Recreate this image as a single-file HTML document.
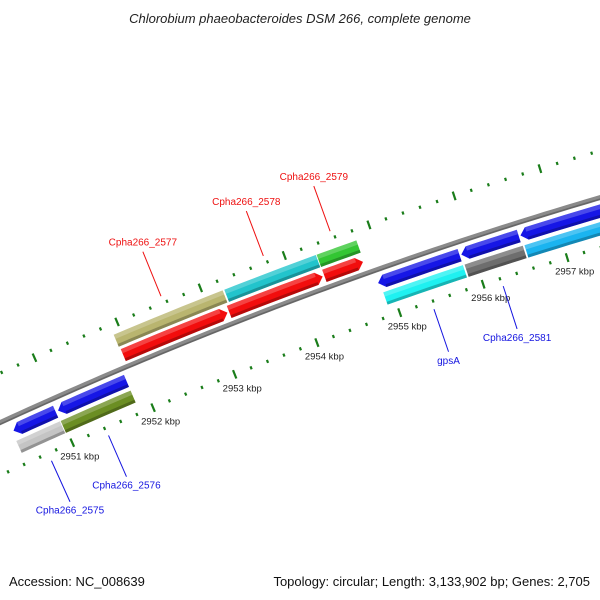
<!DOCTYPE html>
<html><head><meta charset="utf-8"><style>
html,body{margin:0;padding:0;background:#fff;}
svg{display:block;font-family:"Liberation Sans",sans-serif;}
</style></head><body>
<svg id="map" width="600" height="600" viewBox="0 0 600 600" xmlns="http://www.w3.org/2000/svg">
<rect width="600" height="600" fill="#fff"/>
<text x="300" y="23" text-anchor="middle" font-size="13" font-style="italic" fill="#222">Chlorobium phaeobacteroides DSM 266, complete genome</text>
<text x="9" y="586" font-size="13" fill="#111">Accession: NC_008639</text>
<text x="590" y="586" text-anchor="end" font-size="13" fill="#111">Topology: circular; Length: 3,133,902 bp; Genes: 2,705</text>
<g id="plot"></g>
</svg>
<script>
// feature data (kbp positions)
var featNames  = ["Cpha266_2575_rev","Cpha266_2575","Cpha266_2576_rev","Cpha266_2576","Cpha266_2577","Cpha266_2577_fwd","Cpha266_2578","Cpha266_2578_fwd","Cpha266_2579","Cpha266_2579_fwd","gpsA_rev","gpsA","Cpha266_2581_rev","Cpha266_2581","Cpha266_2582_rev","Cpha266_2582"];
var featStart  = [2950.45,2950.43,2951.0,2950.98,2951.91,2951.92,2953.24,2953.2,2954.34,2954.34,2954.88,2954.9,2955.87,2955.87,2956.57,2956.58];
var featEnd    = [2950.97,2950.97,2951.84,2951.84,2953.22,2953.18,2954.33,2954.32,2954.81,2954.8,2955.85,2955.85,2956.55,2956.56,2957.9,2957.9];
var featTrack  = [-13,-30,-13,-30,28,12,28,12,28,12,-13,-30,-13,-30,-13,-30];
var featStrand = [-1,0,-1,0,0,1,0,1,0,1,-1,0,-1,0,-1,0];
var featColor  = ["#1616e6","#c4c4c4","#1616e6","#6b8e23","#b9b56f","#f20d0d","#22c4cc","#f20d0d","#33c633","#f20d0d","#1616e6","#1ff1f1","#1616e6","#6e6e6e","#1616e6","#1ab4f0"];
// labels
var labelText  = ["Cpha266_2575","Cpha266_2576","Cpha266_2577","Cpha266_2578","Cpha266_2579","gpsA","Cpha266_2581"];
var labelPos   = [2950.7,2951.41,2952.56,2953.78,2954.57,2955.38,2956.21];
var labelSide  = [-1,-1,1,1,1,-1,-1];
var labelColor = ["#1515e0","#1515e0","#ee1111","#ee1111","#ee1111","#1515e0","#1515e0"];
// axis ticks
var tickMajor  = [2950,2951,2952,2953,2954,2955,2956,2957,2958];
var tickLabels = ["2950 kbp","2951 kbp","2952 kbp","2953 kbp","2954 kbp","2955 kbp","2956 kbp","2957 kbp","2958 kbp"];
var tickMin = 2950.0, tickMax = 2958.0, tickStep = 0.2;

var CX=1841, CY=4419, R0=4400;
function ang(k){return (-111.66+1.16*(k-2953))*Math.PI/180;}
function P(k,r){var a=ang(k);return [CX+r*Math.cos(a), CY+r*Math.sin(a)];}
function ps(pts){return pts.map(function(p){return p[0].toFixed(2)+","+p[1].toFixed(2);}).join(" ");}
var NS="http://www.w3.org/2000/svg";
var g=document.getElementById("plot");
function mk(tag,attrs){var e=document.createElementNS(NS,tag);for(var k in attrs)e.setAttribute(k,attrs[k]);g.appendChild(e);return e;}
function inView(p){return p[0]>-20&&p[0]<620&&p[1]>-20&&p[1]<620;}

// backbone
var bb=[];for(var k=2949.5;k<=2958.5;k+=0.1)bb.push(P(k,R0));
var bl=mk("polyline",{points:ps(bb),fill:"none",stroke:"#8a8a8a","stroke-width":5});


var bl2=mk("polyline",{points:ps(bb.map(function(p,i){return P(2949.5+i*0.1,R0-1.5);})),fill:"none",stroke:"#666","stroke-width":1.5});



// ticks
var nT=Math.round((tickMax-tickMin)/tickStep);
[4445,4352].forEach(function(rr,ri){
  for(var i=0;i<=nT;i++){
    var k=tickMin+i*tickStep;
    var major=Math.abs(k-Math.round(k))<1e-6;
    var len=major?4.5:1.6;
    var a=P(k,rr-len),b=P(k,rr+len);
    if(!inView(a))continue;
    var t=mk("line",{x1:a[0],y1:a[1],x2:b[0],y2:b[1],stroke:"#1a7d1a","stroke-width":major?2.2:2.2});
    
    
  }
});
tickMajor.forEach(function(k,i){
  var p=P(k,4352);
  if(p[0]<30||p[0]>600)return;
  var t=mk("text",{x:p[0]-12,y:p[1]+17,"font-size":"9.5",fill:"#222"});
  t.textContent=tickLabels[i];
  
  
});

// features
function arcPts(s,e,r){var out=[],n=8;for(var i=0;i<=n;i++)out.push(P(s+(e-s)*i/n,r));return out;}
featStart.forEach(function(s,i){
  var e=featEnd[i], rc=R0+featTrack[i], h=6.5, ah=0.075, st=featStrand[i];
  var pts;
  if(st===-1){
    pts=arcPts(s+ah,e,rc+h).concat(arcPts(e,s+ah,rc-h)).concat([P(s,rc)]);
  }else if(st===1){
    pts=arcPts(s,e-ah,rc+h).concat([P(e,rc)]).concat(arcPts(e-ah,s,rc-h));
  }else{
    pts=arcPts(s,e,rc+h).concat(arcPts(e,s,rc-h));
  }
  var f=mk("polygon",{points:ps(pts),fill:featColor[i]});
  
  
  var s2=s+(st===-1?ah:0), e2=e-(st===1?ah:0);
  var hl=mk("polygon",{points:ps(arcPts(s2,e2,rc+h).concat(arcPts(e2,s2,rc+2))),fill:"#fff","fill-opacity":"0.22"});
  
  
  var sh=mk("polygon",{points:ps(arcPts(s2,e2,rc-3.5).concat(arcPts(e2,s2,rc-h))),fill:"#000","fill-opacity":"0.25"});
  
  
});

// labels
labelText.forEach(function(txt,i){
  var k=labelPos[i], sd=labelSide[i];
  var r1=sd>0?4452:4344, r2=sd>0?4500:4299;
  var a=P(k,r1),b=P(k,r2);
  var l=mk("line",{x1:a[0],y1:a[1],x2:b[0],y2:b[1],stroke:labelColor[i],"stroke-width":1});
  
  
  var t=mk("text",{x:b[0],y:sd>0?b[1]-6:b[1]+12,"text-anchor":"middle","font-size":"10",fill:labelColor[i]});
  t.textContent=txt;
  
  
});
</script>
</body></html>
